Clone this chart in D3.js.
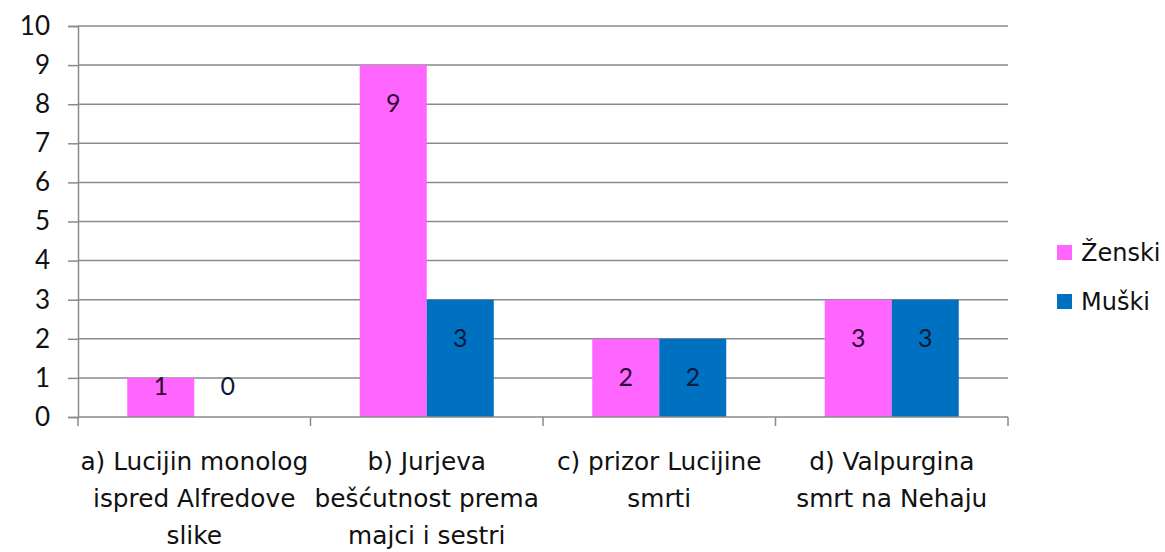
<!DOCTYPE html>
<html>
<head>
<meta charset="utf-8">
<script src="https://cdn.jsdelivr.net/npm/d3@7"></script>
<style>
  body { margin: 0; background: #fff; }
  text { font-family: Lato, "Open Sans", sans-serif; fill: #111; }
  .wide { font-family: "DejaVu Sans", sans-serif; }
</style>
</head>
<body>
<script>
// Grouped bar chart, two series per category
var width = 1165;
var height = 552;

var margin = {
  top: 26,
  left: 78,
  right: 157,
  bottom: 135
};

// Data
var categories = ["a", "b", "c", "d"];
var categoryLines = [
  ["a) Lucijin monolog", "ispred Alfredove", "slike"],
  ["b) Jurjeva", "bešćutnost prema", "majci i sestri"],
  ["c) prizor Lucijine", "smrti"],
  ["d) Valpurgina", "smrt na Nehaju"]
];
var series = ["Ženski", "Muški"];
var zenski = [1, 9, 2, 3];
var muski = [0, 3, 2, 3];
var yTicks = [0, 1, 2, 3, 4, 5, 6, 7, 8, 9, 10];
var colors = ["#ff66ff", "#0070c0"];
var labelColors = ["#2b0a33", "#0c1a3a"];

var values = [zenski, muski];

var svg = d3.select("body")
  .append("svg")
  .attr("width", width)
  .attr("height", height);

// Scales
var x0 = d3.scaleBand()
  .domain(categories)
  .range([margin.left, width - margin.right])
  .padding(0);

var x1 = d3.scaleBand()
  .domain(series)
  .range([0, x0.bandwidth()])
  .paddingInner(0)
  .paddingOuter(0.735);

var yScale = d3.scaleLinear()
  .domain([0, 10])
  .range([height - margin.bottom, margin.top]);

// Gridlines
svg.append("g")
  .selectAll("line")
  .data(yTicks.slice(1))
  .enter()
  .append("line")
    .attr("x1", margin.left)
    .attr("x2", width - margin.right)
    .attr("y1", function(d) { return yScale(d); })
    .attr("y2", function(d) { return yScale(d); })
    .attr("stroke", "#8a8a8a")
    .attr("stroke-width", 1.5);

// Bars
series.forEach(function(s, i) {
  svg.append("g")
    .selectAll("rect")
    .data(categories)
    .enter()
    .append("rect")
      .attr("x", function(c) { return x0(c) + x1(s); })
      .attr("y", function(c, j) { return yScale(values[i][j]); })
      .attr("width", x1.bandwidth())
      .attr("height", function(c, j) { return yScale(0) - yScale(values[i][j]); })
      .attr("fill", colors[i]);
});

// Value labels
series.forEach(function(s, i) {
  svg.append("g")
    .selectAll("text")
    .data(categories)
    .enter()
    .append("text")
      .attr("x", function(c) { return x0(c) + x1(s) + x1.bandwidth() / 2; })
      .attr("y", function(c, j) {
        return Math.min(yScale(values[i][j]) + 37, yScale(0) - 32);
      })
      .attr("text-anchor", "middle")
      .attr("dominant-baseline", "central")
      .style("font-size", "25px")
      .style("fill", labelColors[i])
      .text(function(c, j) { return values[i][j]; });
});

// Y axis
var yAxis = svg.append("g")
  .attr("transform", "translate(" + margin.left + ",0)")
  .call(d3.axisLeft(yScale).tickValues(yTicks).tickSize(10).tickPadding(18));

yAxis.selectAll("line, path").attr("stroke", "#8a8a8a").attr("stroke-width", 1.5);
yAxis.selectAll("text").style("font-size", "26px").style("font-family", "Lato, sans-serif");

// X axis
var xAxis = svg.append("g")
  .attr("transform", "translate(0," + yScale(0) + ")");

xAxis.append("line")
  .attr("x1", margin.left)
  .attr("x2", width - margin.right)
  .attr("stroke", "#8a8a8a")
  .attr("stroke-width", 1.5);

xAxis.selectAll(".tick")
  .data(categories.concat(["end"]))
  .enter()
  .append("line")
    .attr("x1", function(c, i) { return margin.left + i * x0.step(); })
    .attr("x2", function(c, i) { return margin.left + i * x0.step(); })
    .attr("y1", 0)
    .attr("y2", 9)
    .attr("stroke", "#8a8a8a")
    .attr("stroke-width", 1.5);

var catLabels = xAxis.selectAll(".cat")
  .data(categories)
  .enter()
  .append("text")
    .attr("class", "wide")
    .attr("text-anchor", "middle")
    .style("font-size", "24.8px")
    .attr("transform", function(c) { return "translate(" + (x0(c) + x0.bandwidth() / 2) + ",53)"; });

catLabels.each(function(c, i) {
  d3.select(this).selectAll("tspan")
    .data(categoryLines[i])
    .enter()
    .append("tspan")
      .attr("x", 0)
      .attr("y", function(d, k) { return k * 37; })
      .text(function(d) { return d; });
});

// Legend
var legend = svg.append("g")
  .attr("transform", "translate(1057,253)");

var items = legend.selectAll("g")
  .data(series)
  .enter()
  .append("g")
    .attr("transform", function(d, i) { return "translate(0," + (i * 49) + ")"; });

items.append("rect")
  .attr("x", 0)
  .attr("y", -8)
  .attr("width", 15)
  .attr("height", 15)
  .attr("fill", function(d, i) { return colors[i]; });

items.append("text")
  .attr("class", "wide")
  .attr("x", 24)
  .attr("y", 0)
  .attr("dominant-baseline", "central")
  .style("font-size", "24px")
  .text(function(d) { return d; });
</script>
</body>
</html>
